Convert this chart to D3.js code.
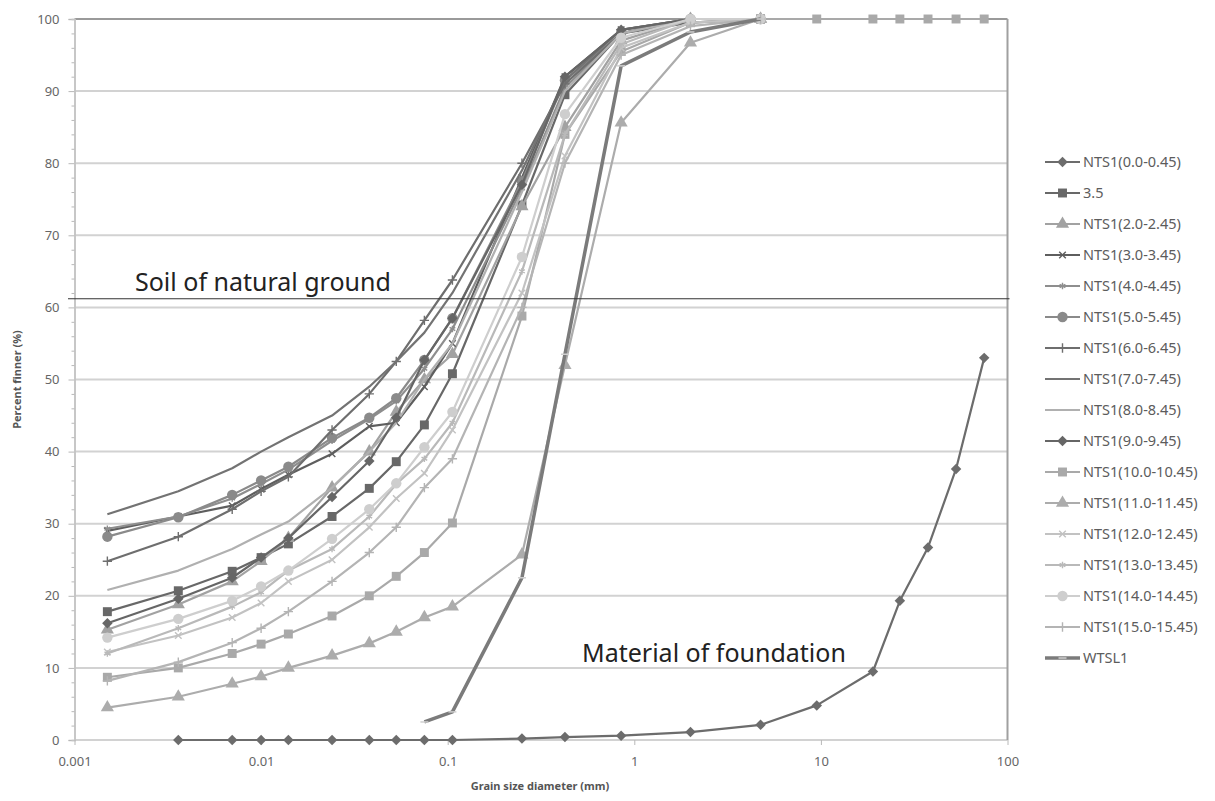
<!DOCTYPE html>
<html>
<head>
<meta charset="utf-8">
<script src="https://cdn.jsdelivr.net/npm/d3@7"></script>
<style>
  body { margin: 0; background: #fff; }
  svg { display: block; }
  text { font-family: "Noto Sans", "Open Sans", sans-serif; }
</style>
</head>
<body>
<script>
// sieve / hydrometer sizes (mm)
const sieve = [0.0015, 0.0036, 0.007, 0.01, 0.014, 0.024, 0.038, 0.053, 0.075, 0.106, 0.25, 0.425, 0.85, 2, 4.75, 9.5, 19, 26.5, 37.5, 53, 75];

// percent finer, same order as sieve (null = no reading)
const nts0  = [null, 0, 0, 0, 0, 0, 0, 0, 0, 0, 0.2, 0.4, 0.6, 1.1, 2.1, 4.8, 9.5, 19.3, 26.7, 37.6, 53.0];
const s35   = [17.8, 20.7, 23.4, 25.3, 27.2, 31.0, 34.9, 38.6, 43.7, 50.8, 74.2, 89.5, 98.0, 99.5, 100];
const nts2  = [15.3, 18.8, 22.0, 24.8, 28.0, 35.0, 40.0, 45.5, 50.0, 53.5, 74.0, 85.0, 97.0, 100, 100];
const nts3  = [29.0, 31.0, 32.5, 34.8, 36.8, 39.7, 43.5, 44.0, 49.0, 55.0, 78.0, 92.0, 98.5, 100, 100];
const nts4  = [29.3, 31.0, 33.5, 35.5, 37.5, 41.5, 44.5, 47.0, 51.5, 57.0, 76.5, 90.5, 98.0, 100, 100];
const nts5  = [28.2, 30.9, 34.0, 36.0, 37.9, 41.9, 44.7, 47.4, 52.7, 58.5, 77.5, 91.5, 98.0, 100, 100];
const nts6  = [24.8, 28.2, 32.0, 34.5, 36.5, 43.0, 48.0, 52.5, 58.2, 63.8, 80.0, 91.0, 98.0, 100, 100];
const nts7  = [31.3, 34.5, 37.7, 40.0, 42.0, 45.0, 49.0, 52.5, 56.5, 62.0, 79.0, 91.5, 98.5, 100, 100];
const nts8  = [20.8, 23.5, 26.5, 28.5, 30.3, 35.0, 40.0, 44.0, 50.0, 55.0, 76.0, 90.0, 98.0, 100, 100];
const nts9  = [16.2, 19.6, 22.5, 25.3, 28.0, 33.7, 38.7, 44.7, 52.7, 58.5, 77.0, 92.0, 98.5, 100, 100];
const nts10 = [8.7, 10.0, 12.0, 13.3, 14.7, 17.2, 20.0, 22.7, 26.0, 30.1, 58.8, 84.0, 95.5, 99.5, 100, 100, 100, 100, 100, 100, 100];
const nts11 = [4.5, 6.0, 7.8, 8.8, 10.0, 11.7, 13.4, 15.0, 17.0, 18.5, 25.7, 52.0, 85.6, 96.7, 100];
const nts12 = [12.2, 14.5, 17.0, 19.0, 22.0, 25.0, 29.5, 33.5, 37.0, 43.0, 62.0, 81.0, 96.0, 99.5, 100];
const nts13 = [12.0, 15.5, 18.5, 20.5, 23.5, 26.5, 31.0, 35.5, 39.0, 44.0, 65.0, 84.0, 96.5, 100, 100];
const nts14 = [14.2, 16.8, 19.3, 21.3, 23.5, 27.9, 32.0, 35.6, 40.6, 45.5, 67.0, 86.8, 97.4, 100, 100];
const nts15 = [8.2, 10.8, 13.5, 15.5, 17.8, 22.0, 26.0, 29.5, 35.0, 39.0, 60.0, 80.0, 95.0, 99.0, 100];
const wtsl1 = [null, null, null, null, null, null, null, null, 2.5, 3.9, 22.5, 53.5, 93.5, 98.2, 100];

const names = ["NTS1(0.0-0.45)", "3.5", "NTS1(2.0-2.45)", "NTS1(3.0-3.45)", "NTS1(4.0-4.45)", "NTS1(5.0-5.45)",
  "NTS1(6.0-6.45)", "NTS1(7.0-7.45)", "NTS1(8.0-8.45)", "NTS1(9.0-9.45)", "NTS1(10.0-10.45)", "NTS1(11.0-11.45)",
  "NTS1(12.0-12.45)", "NTS1(13.0-13.45)", "NTS1(14.0-14.45)", "NTS1(15.0-15.45)", "WTSL1"];
const values = [nts0, s35, nts2, nts3, nts4, nts5, nts6, nts7, nts8, nts9, nts10, nts11, nts12, nts13, nts14, nts15, wtsl1];

const yTicks = [0, 10, 20, 30, 40, 50, 60, 70, 80, 90, 100];
const xTicks = [0.001, 0.01, 0.1, 1, 10, 100];

// styles
const colors = ["#6c6c6c", "#686868", "#a2a2a2", "#5e5e5e", "#8e8e8e", "#8a8a8a", "#6e6e6e", "#737373", "#b0b0b0",
  "#666666", "#a9a9a9", "#acacac", "#c2c2c2", "#b9b9b9", "#cecece", "#b4b4b4", "#7b7b7b"];
const markers = ["diamond", "square", "triangle", "times", "asterisk", "circle", "plus", "none", "none",
  "diamond", "square", "triangle", "times", "asterisk", "circle", "plus", "dash"];

const W = 1215, H = 801;
const mLeft = 74.5, mRight = 1007.5, mTop = 19, mBottom = 740;

const svg = d3.select("body").append("svg")
  .attr("width", W)
  .attr("height", H);

const x = d3.scaleLog().domain([0.001, 100]).range([mLeft, mRight]);
const y = d3.scaleLinear().domain([0, 100]).range([mBottom, mTop]);

// gridlines
svg.append("g")
  .selectAll("line")
  .data(yTicks)
  .join("line")
  .attr("x1", mLeft).attr("x2", mRight)
  .attr("y1", d => y(d)).attr("y2", d => y(d))
  .attr("stroke", d => d == 100 ? "#9a9a9a" : "#d2d2d2")
  .attr("stroke-width", 2);

// right border
svg.append("line")
  .attr("x1", mRight).attr("x2", mRight)
  .attr("y1", mTop).attr("y2", mBottom)
  .attr("stroke", "#a0a0a0").attr("stroke-width", 2);

// y axis
const yAxis = svg.append("g")
  .attr("transform", `translate(${mLeft},0)`)
  .call(d3.axisLeft(y).tickValues(yTicks).tickSize(6).tickPadding(9));
yAxis.append("g")
  .call(d3.axisLeft(y).tickValues(d3.range(0, 101, 2).filter(d => d % 10)).tickSize(3).tickFormat(""));
yAxis.selectAll(".domain").attr("stroke", "#c4c4c4").attr("stroke-width", 1.5);
yAxis.selectAll(".tick line").attr("stroke", "#b8b8b8");
yAxis.selectAll("text").attr("fill", "#666").style("font-size", "13px");

// x axis
const xAxis = svg.append("g")
  .attr("transform", `translate(0,${mBottom})`)
  .call(d3.axisBottom(x).tickValues(xTicks).tickFormat(d => String(d)).tickSize(5).tickPadding(12));
xAxis.selectAll(".domain").remove();
xAxis.selectAll(".tick line").attr("stroke", "#b8b8b8");
xAxis.selectAll("text").attr("fill", "#666").style("font-size", "13px");

// axis titles
svg.append("text")
  .attr("transform", `translate(21,${(mTop + mBottom) / 2}) rotate(-90)`)
  .attr("text-anchor", "middle")
  .attr("fill", "#555")
  .style("font-size", "11px").style("font-weight", "bold")
  .text("Percent finner (%)");

svg.append("text")
  .attr("x", 540).attr("y", 790)
  .attr("text-anchor", "middle")
  .attr("fill", "#555")
  .style("font-size", "11px").style("font-weight", "bold")
  .text("Grain size diameter (mm)");

const symbolFor = {
  diamond: d3.symbolSquare, square: d3.symbolSquare, triangle: d3.symbolTriangle,
  circle: d3.symbolCircle, times: d3.symbolTimes, asterisk: d3.symbolAsterisk, plus: d3.symbolPlus
};
const symbolSize = { diamond: 55, square: 80, triangle: 75, circle: 85, times: 30, asterisk: 30, plus: 30 };
const filled = m => ["diamond", "square", "triangle", "circle"].includes(m);

const drawMarker = (g, m, color, px, py) => {
  if (m == "none") return;
  if (m == "dash") {
    g.append("line")
      .attr("x1", px - 4).attr("x2", px + 4).attr("y1", py).attr("y2", py)
      .attr("stroke", "#cfcfcf").attr("stroke-width", 1.5);
    return;
  }
  const p = g.append("path")
    .attr("d", d3.symbol().type(symbolFor[m]).size(symbolSize[m])())
    .attr("transform", `translate(${px},${py})` + (m == "diamond" ? " rotate(45)" : ""));
  if (filled(m)) p.attr("fill", color).attr("stroke", "none");
  else p.attr("fill", "none").attr("stroke", color).attr("stroke-width", 1.4);
};

const line = d3.line()
  .defined(d => d.v != null)
  .x(d => x(d.s))
  .y(d => y(d.v));

const plot = svg.append("g");

values.forEach((vals, i) => {
  const pts = sieve.map((s, j) => ({ s, v: vals[j] == null ? null : vals[j] }));
  const g = plot.append("g");
  g.append("path")
    .datum(pts)
    .attr("d", line)
    .attr("fill", "none")
    .attr("stroke", colors[i])
    .attr("stroke-width", i == 16 ? 3.5 : 2.2)
    .attr("stroke-linejoin", "round");
  pts.filter(d => d.v != null).forEach(d => drawMarker(g, markers[i], colors[i], x(d.s), y(d.v)));
});

// annotation
svg.append("line")
  .attr("x1", 68).attr("x2", mRight + 2)
  .attr("y1", y(61.2)).attr("y2", y(61.2))
  .attr("stroke", "#333").attr("stroke-width", 1.2);

svg.append("text")
  .attr("x", 135).attr("y", 291)
  .attr("fill", "#222")
  .style("font-size", "25px")
  .text("Soil of natural ground");

svg.append("text")
  .attr("x", 582).attr("y", 662)
  .attr("fill", "#222")
  .style("font-size", "25px")
  .text("Material of foundation");

// legend
const legend = svg.append("g");
names.forEach((n, i) => {
  const ly = 162 + i * 31;
  const g = legend.append("g");
  g.append("line")
    .attr("x1", 1045).attr("x2", 1080)
    .attr("y1", ly).attr("y2", ly)
    .attr("stroke", colors[i])
    .attr("stroke-width", i == 16 ? 3.5 : 2.2);
  drawMarker(g, markers[i], colors[i], 1062.5, ly);
  g.append("text")
    .attr("x", 1083).attr("y", ly + 5)
    .attr("fill", "#5c5c5c")
    .style("font-size", "14.5px")
    .text(n);
});
</script>
</body>
</html>
